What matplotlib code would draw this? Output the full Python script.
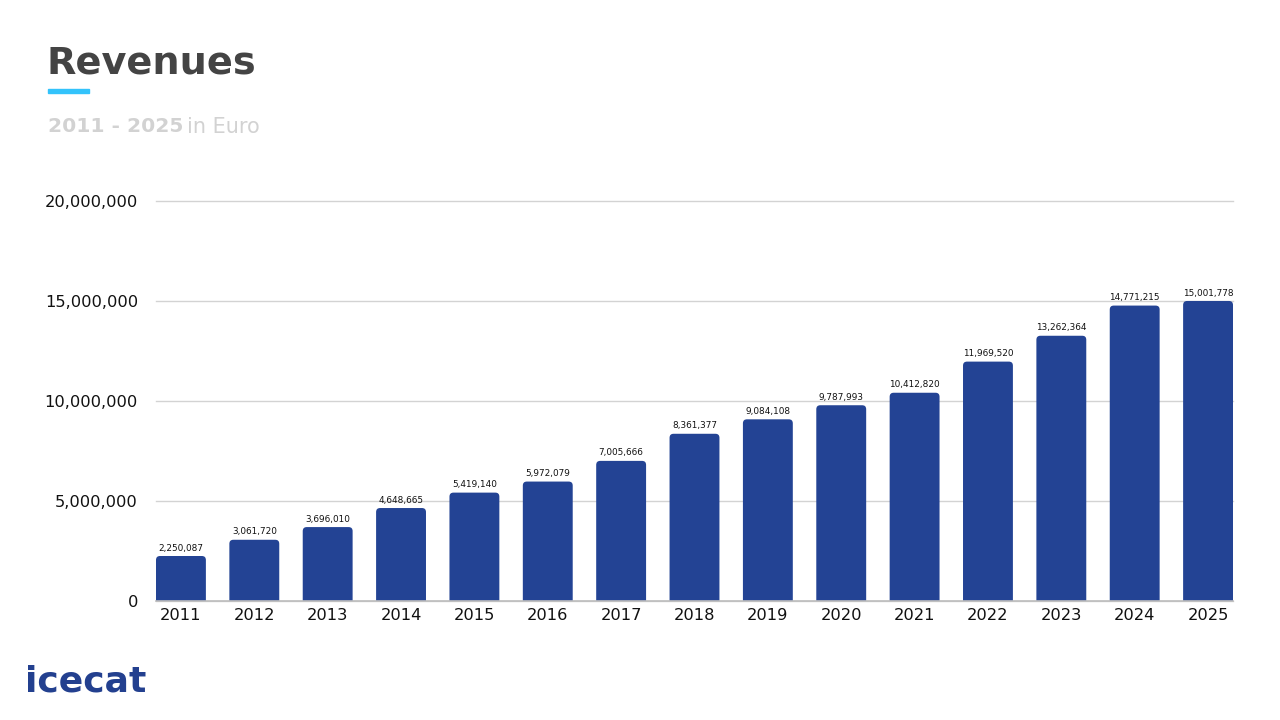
import matplotlib
matplotlib.use("Agg")
import matplotlib.pyplot as plt
from matplotlib.ticker import FuncFormatter, FixedLocator
from matplotlib.patches import FancyBboxPatch

years = ["2011", "2012", "2013", "2014", "2015", "2016", "2017", "2018",
         "2019", "2020", "2021", "2022", "2023", "2024", "2025"]
revenues = [2250087, 3061720, 3696010, 4648665, 5419140, 5972079, 7005666,
            8361377, 9084108, 9787993, 10412820, 11969520, 13262364,
            14771215, 15001778]
yticks = [0, 5000000, 10000000, 15000000, 20000000]

FONT = ["DejaVu Sans"]
plt.rcParams["font.family"] = FONT

BAR = "#234394"
fig = plt.figure(figsize=(12.8, 7.2), dpi=100)
ax_h_px = 400
ax_w_px = 1233 - 156
ax = fig.add_axes([156/1280, 1-601/720, ax_w_px/1280, ax_h_px/720])

YMAX = 20000000
XMIN, XMAX = -0.34, len(years) - 1 + 0.34
x = list(range(len(years)))
bars = ax.bar(x, revenues, width=0.68, color=BAR, zorder=3)

# rounded top corners (bottom rounding hidden below the axis)
px_per_x = ax_w_px / (XMAX - XMIN)
y_per_px = YMAX / ax_h_px
aspect = y_per_px * px_per_x
r = 4 / px_per_x
for b in bars:
    b.set_visible(False)
    fx, w, h = b.get_x(), b.get_width(), b.get_height()
    p = FancyBboxPatch((fx, -r * aspect), w, h + r * aspect,
                       boxstyle=f"round,pad=0,rounding_size={r}",
                       mutation_aspect=aspect,
                       facecolor=BAR, edgecolor="none", zorder=3)
    ax.add_patch(p)

for xi, v in zip(x, revenues):
    ax.text(xi, v + 170000, f"{v:,}", ha="center", va="bottom", fontsize=6.4,
            color="#111111", zorder=4)

ax.set_xlim(XMIN, XMAX)
ax.set_ylim(0, YMAX)
ax.yaxis.set_major_locator(FixedLocator(yticks))
ax.yaxis.set_major_formatter(FuncFormatter(lambda v, p: f"{int(v):,}"))
ax.set_xticks(x)
ax.set_xticklabels(years)
ax.tick_params(axis="both", length=0, labelsize=11.7, colors="#111111")
ax.tick_params(axis="y", pad=13)
ax.tick_params(axis="x", pad=5)
ax.grid(axis="y", color="#d3d3d3", linewidth=1, zorder=0)
for s in ["top", "right", "left"]:
    ax.spines[s].set_visible(False)
ax.spines["bottom"].set_color("#bdbdbd")
ax.spines["bottom"].set_linewidth(1.2)
ax.spines["bottom"].set_zorder(4)
for gl in ax.get_ygridlines():
    gl.set_clip_on(False)

fig.text(47/1280, 1-64/720, "Revenues", fontsize=27.5, fontweight="bold",
         color="#444444", va="center", ha="left")
fig.patches.append(plt.Rectangle((48/1280, 1-93/720), 41/1280, 4/720,
                                 transform=fig.transFigure, color="#33c3fb"))
t = fig.text(48/1280, 1-127/720, "2011 - 2025", fontsize=14.6, fontweight="bold",
             color="#d2d2d2", va="center", ha="left")
fig.canvas.draw()
bb = t.get_window_extent()
fig.text((bb.x1 + 4)/1280, 1-127/720, "in Euro", fontsize=15,
         color="#d2d2d2", va="center", ha="left")
fig.text(25/1280, 1-682/720, "icecat", fontsize=26, fontweight="bold",
         color="#23408f", va="center", ha="left")

fig.savefig("out.png", dpi=100)
